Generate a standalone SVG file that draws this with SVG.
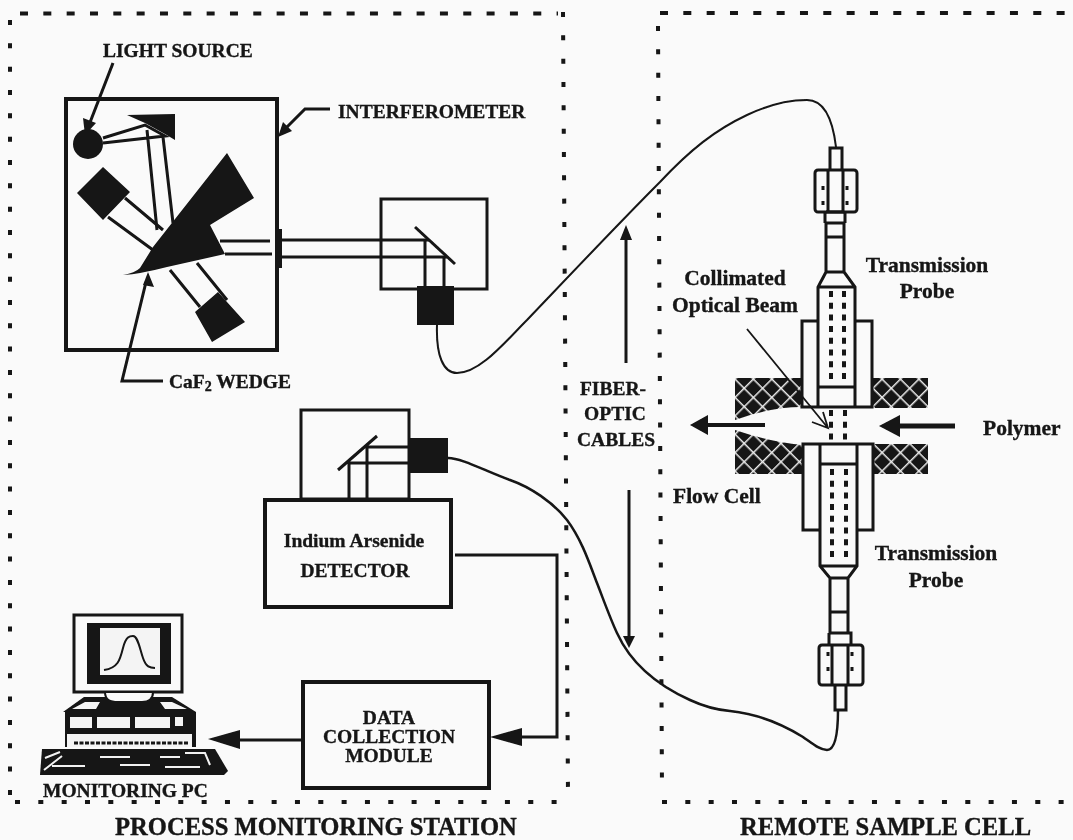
<svg xmlns="http://www.w3.org/2000/svg" width="1073" height="840" viewBox="0 0 1073 840">
<style>
text{font-family:"Liberation Serif","Times New Roman",serif;font-weight:bold;fill:#141414;stroke:#141414;stroke-width:.35}
.t{font-size:19.5px}.m{font-size:21.5px}.b{font-size:24.6px}.c{text-anchor:middle}
.l{fill:none;stroke:#141414;stroke-width:3}
.th{fill:none;stroke:#141414;stroke-width:2}
.w{fill:#fafafa;stroke:#141414;stroke-width:4}
.k{fill:#141414}
.dh{fill:none;stroke:#141414;stroke-width:4;stroke-dasharray:8 15.33}
.dv{fill:none;stroke:#141414;stroke-width:4;stroke-dasharray:5 18.33}
.dot{fill:none;stroke:#141414;stroke-width:4;stroke-dasharray:6 5.7}
.nd{fill:none;stroke:#141414;stroke-width:3;stroke-dasharray:4 11}
</style>
<defs>
<pattern id="hatch" width="13" height="13" patternUnits="userSpaceOnUse" patternTransform="translate(735 378) rotate(45)">
<rect width="13" height="13" fill="#141414"/><path d="M0 0H13M0 0V13" stroke="#ededed" stroke-width="3"/>
</pattern>
<filter id="soft" x="-2%" y="-2%" width="104%" height="104%"><feGaussianBlur stdDeviation="0.45"/></filter>
</defs>
<rect width="1073" height="840" fill="#fafafa"/>
<g filter="url(#soft)">
<g id="station-border">
<path class="dh" d="M20 13.500H558"/>
<path class="dv" d="M10 20V798"/>
<path class="dv" d="M563 12L568 795"/>
<path class="dv" d="M15 802H560"/>
</g>
<g id="cell-border">
<path class="dh" d="M660 13H1073"/>
<path class="dv" d="M658 26L662 790"/>
<path class="dv" d="M662 802H1073"/>
</g>

<g id="interferometer">
<rect class="w" x="66" y="99" width="211" height="251"/>
<circle class="k" cx="88" cy="144" r="15"/>
<path class="k" d="M127 115L175 114V140L165 134L145 123Z"/>
<path class="l" d="M103 138L145 125L165 136L103 143M147 130L157 230M163 137L173 223"/>
<path class="k" d="M103 167L130 192L103 220L77 193ZM218 292L245 322L212 342L195 312Z"/>
<path class="l" d="M125 198L163 230M108 217L153 250M170 270L200 307M197 263L227 300"/>
<path class="k" d="M123 275Q135 273 140 268L153 247L227 153L254 198L210 225L225 254L167 267Q140 274 123 275Z"/>
<path class="l" d="M220 241H270M225 254H272"/>
<rect class="k" x="275" y="229" width="7" height="39"/>
</g>
<g id="beam">
<path class="l" d="M282 240H429M282 257H447M425 240V287M444 257V287"/>
</g>
<g id="source-box">
<rect class="l" x="381" y="199" width="106" height="90"/>
<path class="l" d="M415 227L455 264"/>
<rect class="k" x="417" y="286" width="37" height="39"/>
</g>
<g id="detector-optics">
<rect class="l" x="301" y="410" width="108" height="89"/>
<path class="l" d="M338 470L377 436M349 499V463H409M367 499V447H409"/>
<rect class="k" x="409" y="438" width="39" height="35"/>
</g>
<g id="detector">
<rect class="w" x="265" y="500" width="186" height="107"/>
<text class="t c" x="354" y="547">Indium Arsenide</text>
<text class="t c" x="355" y="577">DETECTOR</text>
</g>
<g id="data-module">
<rect class="w" x="303" y="682" width="186" height="106"/>
<text class="t c" x="389" y="724">DATA</text>
<text class="t c" x="389" y="743">COLLECTION</text>
<text class="t c" x="389" y="762">MODULE</text>
</g>
<g id="pc">
<rect fill="none" stroke="#141414" stroke-width="3" x="74" y="615" width="108" height="77"/>
<rect class="k" x="87" y="623" width="84" height="61"/>
<rect fill="#f4f4f4" x="100" y="628" width="60" height="47"/>
<path class="th" d="M104 670C118 668 120 660 123 648C126 636 130 636 133 636C138 636 140 650 143 658C146 667 150 668 155 668"/>
<path class="k" d="M63 712L84 697H172L196 712V747H65V712Z"/>
<path class="th" style="fill:#fafafa" d="M105 692C105 700 110 702 118 702H142C150 702 153 698 153 692Z"/>
<path fill="#f4f4f4" d="M72 709L85 702H100L96 709ZM160 702H172L187 709H165ZM70 717H92V728H70ZM97 717H130V728H97ZM135 717H170V728H135ZM175 717H183V726H175ZM67 734H192V747H67Z"/>
<path fill="none" stroke="#141414" stroke-width="3" stroke-dasharray="4 1.5" d="M74 743H188"/>
<path class="k" d="M42 749H215L228 771L224 775H40Z"/>
<path fill="none" stroke="#f2f2f2" stroke-width="2" d="M45 758L60 752M52 766H85M100 757H130M120 765H150M160 757H180M165 767H200M185 753H205L210 765M44 770L62 756"/>
<text class="t" x="43" y="797">MONITORING PC</text>
</g>

<g id="flow-cell">
<path fill="url(#hatch)" d="M735 378H802V407Q770 407 735 420Z"/>
<path fill="url(#hatch)" d="M735 430Q770 442 802 445V474H735Z"/>
<path fill="url(#hatch)" d="M872 378H928V408H872ZM872 444H928V474H872Z"/>
</g>
<g id="upper-probe">
<path class="l" d="M830 170V148H842V170"/>
<rect class="l" x="815" y="170" width="42" height="42" rx="3"/>
<path class="l" d="M828 170V212M843 170V212"/>
<path class="nd" d="M823 186V206M847 186V206"/>
<path class="l" d="M825 212V223M845 212V223M825 223H845M826 223V272L818 287V407M844 223V272L855 287V407M826 212H844M826 237H844M826 272H844M818 287H855M818 387H855M818 407H855"/>
<path class="l" d="M818 321H802V407H818M855 321H872V407H855"/>
<path class="dot" d="M831 291V384M844 291V384"/>
<path class="dot" d="M831 410V440M845 410V440"/>
</g>
<g id="lower-probe">
<path class="l" d="M820 444V566L830 578V633M857 444V566L848 578V633M820 444H857M820 464H857M820 566H857M830 578H848M830 612H848"/>
<path class="l" d="M820 444H803V530H820M857 444H873V530H857"/>
<path class="dot" d="M832 469V562M846 469V562"/>
<path class="l" d="M829 633H851V645M829 633V645"/>
<rect class="l" x="819" y="645" width="44" height="40" rx="3"/>
<path class="l" d="M832 645V685M848 645V685"/>
<path class="l" d="M835 685V710H846V685"/>
<path class="nd" d="M828 652V672M852 652V672"/>
</g>
<g id="connectors">
<path class="th" d="M437 325C436 355 443 373 457 373C480 373 505 342 527 320C570 275 620 222 660 182C690 150 715 130 747 115C770 104 790 100 807 100C825 100 833 122 836 147"/>
<path class="th" style="stroke-width:2.500" d="M448 458C462 458 485 471 510 480C530 487 553 502 567 520C582 540 590 565 597 583C604 601 610 618 617 633C627 655 648 681 690 700C705 707 718 710 730 711C760 714 785 726 803 737C813 744 820 750 827 750C836 750 838 730 838 710"/>
<path class="l" d="M455 555H557V737H515"/>
<path class="k" d="M490 737L522 728V746Z"/>
<path class="l" d="M303 740H235"/>
<path class="k" d="M208 739L240 730V749Z"/>
<path class="l" d="M113 63L89 125"/>
<path class="k" d="M85 135L83 118L96 123Z"/>
<path class="l" d="M330 109H305L284 130"/>
<path class="k" d="M278 137L283 122L292 131Z"/>
<path class="l" d="M163 381H122L146 282"/>
<path class="k" d="M148 272L154 287L143 285Z"/>
<path class="l" style="stroke-width:1.800" d="M747 329L828 428M812 422L828 428L823 412"/>
<path class="l" style="stroke-width:4" d="M765 425H700"/>
<path class="k" d="M690 425L708 415V435Z"/>
<path class="l" style="stroke-width:5" d="M955 426H890"/>
<path class="k" d="M879 426L900 415V437Z"/>
<path class="l" d="M626 363V235"/>
<path class="k" d="M626 225L620 240H632Z"/>
<path class="l" d="M629 490V638"/>
<path class="k" d="M629 648L623 636H635Z"/>
</g>
<g id="labels">
<text class="t" x="103" y="57">LIGHT SOURCE</text>
<text class="t" x="338" y="118">INTERFEROMETER</text>
<text class="t" x="169" y="388">CaF<tspan font-size="14" dy="3">2</tspan><tspan dy="-3"> WEDGE</tspan></text>
<text class="t c" x="613" y="395">FIBER-</text>
<text class="t c" x="615" y="420">OPTIC</text>
<text class="t c" x="616" y="446">CABLES</text>
<text class="m c" x="927" y="272">Transmission</text>
<text class="m c" x="927" y="298">Probe</text>
<text class="m c" x="735" y="285">Collimated</text>
<text class="m c" x="735" y="312">Optical Beam</text>
<text class="m" x="673" y="503">Flow Cell</text>
<text class="m" x="983" y="435">Polymer</text>
<text class="m c" x="936" y="560">Transmission</text>
<text class="m c" x="936" y="587">Probe</text>
<text class="b" x="115" y="835">PROCESS MONITORING STATION</text>
<text class="b" x="740" y="835">REMOTE SAMPLE CELL</text>
</g>
</g>
</svg>
